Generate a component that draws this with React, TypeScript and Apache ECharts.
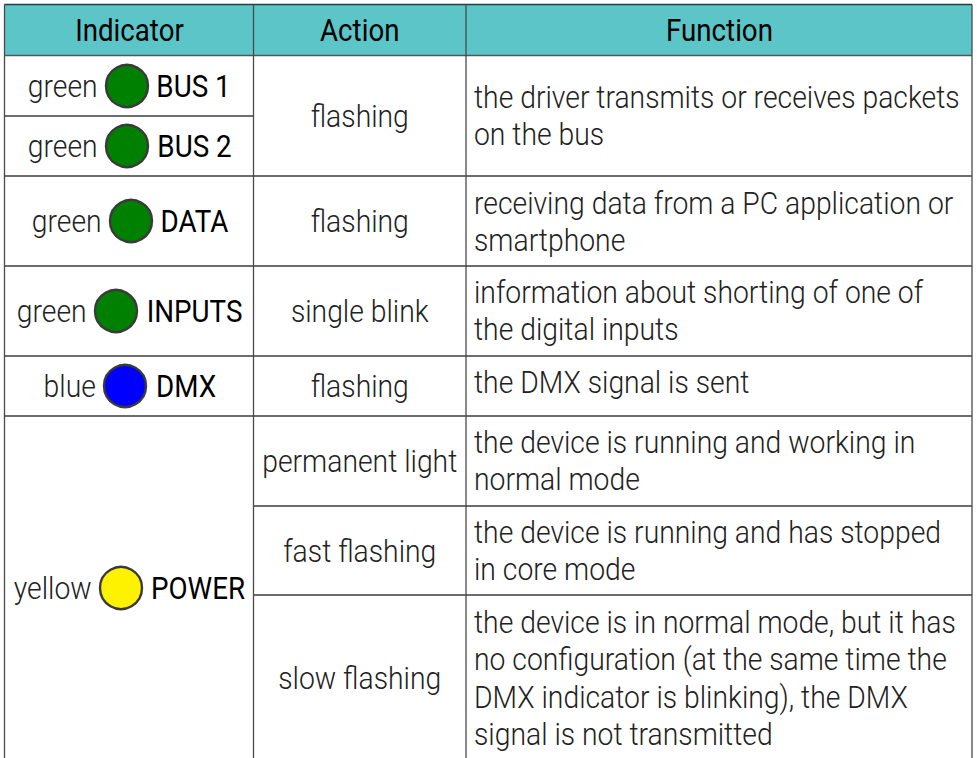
import React, { useEffect, useRef } from "react";
import * as echarts from "echarts";

const headers = ["Indicator", "Action", "Function"];
const indicatorColors = ["green", "green", "green", "green", "blue", "yellow"];
const indicatorNames = ["BUS 1", "BUS 2", "DATA", "INPUTS", "DMX", "POWER"];
const actions = ["flashing", "flashing", "single blink", "flashing", "permanent light", "fast flashing", "slow flashing"];
const functions = [
  ["the driver transmits or receives packets", "on the bus"],
  ["receiving data from a PC application or", "smartphone"],
  ["information about shorting of one of", "the digital inputs"],
  ["the DMX signal is sent"],
  ["the device is running and working in", "normal mode"],
  ["the device is running and has stopped", "in core mode"],
  ["the device is in normal mode, but it has", "no configuration (at the same time the", "DMX indicator is blinking), the DMX", "signal is not transmitted"],
];

// layout, kept apart from the content
const ledFill: Record<string, string> = { green: "#008000", blue: "#0000ff", yellow: "#fff200" };
const colX = [4.5, 253.5, 466, 972];
const top = 4.5, headBottom = 55.5, bottom = 758;
const indY = [85.5, 145.5, 220.5, 310.5, 385.5, 587.5];
const ledY = [86, 146, 221, 311, 386, 588];
const indWordX = [62.7, 62.7, 66.7, 51.7, 69.7, 52.7];
const indLedX = [127, 127, 131, 116, 125, 121];
const indNameX = [193.5, 194.5, 194.5, 194.5, 186, 198];
const actY = [115.5, 220.5, 310.5, 385.5, 460.5, 550.5, 677.5];
const fnY = [96.5, 202.5, 291.5, 381.5, 441.5, 531.5, 621.5];
const fullRules = [176, 266, 356, 416];
const bodyScale = 0.885;
const nameScale = 0.868;
const headScale = 0.865;
const FONT = "Roboto";

function label(text: string, x: number, y: number, align: string, weight: number, fill: string, sx: number) {
  return {
    type: "text", x, y, scaleX: sx, silent: true,
    style: { text, x: 0, y: 0, align, verticalAlign: "middle", fontFamily: FONT, fontSize: 32, fontWeight: weight, fill },
  };
}
function rule(x1: number, y1: number, x2: number, y2: number, stroke = "#3c3c3c", w = 1.3) {
  return { type: "line", silent: true, shape: { x1, y1, x2, y2 }, style: { stroke, lineWidth: w } };
}

export default function App() {
  const ref = useRef<HTMLDivElement>(null);
  useEffect(() => {
    document.body.style.margin = "0";
    document.documentElement.style.overflow = "hidden";
    const chart = echarts.init(ref.current!, undefined, { renderer: "svg" });
    const els: any[] = [];
    els.push({ type: "rect", silent: true, shape: { x: colX[0], y: top, width: colX[3] - colX[0], height: headBottom - top }, style: { fill: "#5bc5c7" } });
    fullRules.forEach((y) => els.push(rule(colX[0], y, colX[3], y)));
    els.push(rule(colX[0], 116, colX[1], 116));
    [506, 595].forEach((y) => els.push(rule(colX[1], y, colX[3], y)));
    els.push(rule(colX[0], top, colX[3], top, "#1f3f40", 1.3));
    els.push(rule(colX[0], headBottom, colX[3], headBottom, "#555", 1.6));
    colX.forEach((x) => els.push(rule(x, top, x, bottom, "#4a4a4a", 1.3)));
    const heads = [(colX[0] + colX[1]) / 2 + 0.5, (colX[1] + colX[2]) / 2, (colX[2] + colX[3]) / 2 + 0.5];
    headers.forEach((h, i) => els.push(label(h, heads[i], 29.5, "center", 400, "#000", headScale)));
    indicatorNames.forEach((n, i) => {
      els.push(label(indicatorColors[i], indWordX[i], indY[i], "center", 300, "#222", bodyScale));
      els.push({
        type: "circle", silent: true,
        shape: { cx: indLedX[i], cy: ledY[i], r: 21 },
        style: { fill: ledFill[indicatorColors[i]], stroke: "#3a3a3a", lineWidth: 2.4 },
      });
      els.push(label(n, indNameX[i], indY[i], "center", 400, "#000", nameScale));
    });
    const actX = (colX[1] + colX[2]) / 2;
    actions.forEach((a, i) => els.push(label(a, actX, actY[i], "center", 300, "#222", bodyScale)));
    functions.forEach((lines, i) =>
      lines.forEach((l, j) => els.push(label(l, 474, fnY[i] + j * 37.5, "left", 300, "#222", bodyScale)))
    );
    chart.setOption({ animation: false, backgroundColor: "#fff", graphic: { elements: els } });
    return () => chart.dispose();
  }, []);
  return <div ref={ref} style={{ width: 977, height: 758 }} />;
}
